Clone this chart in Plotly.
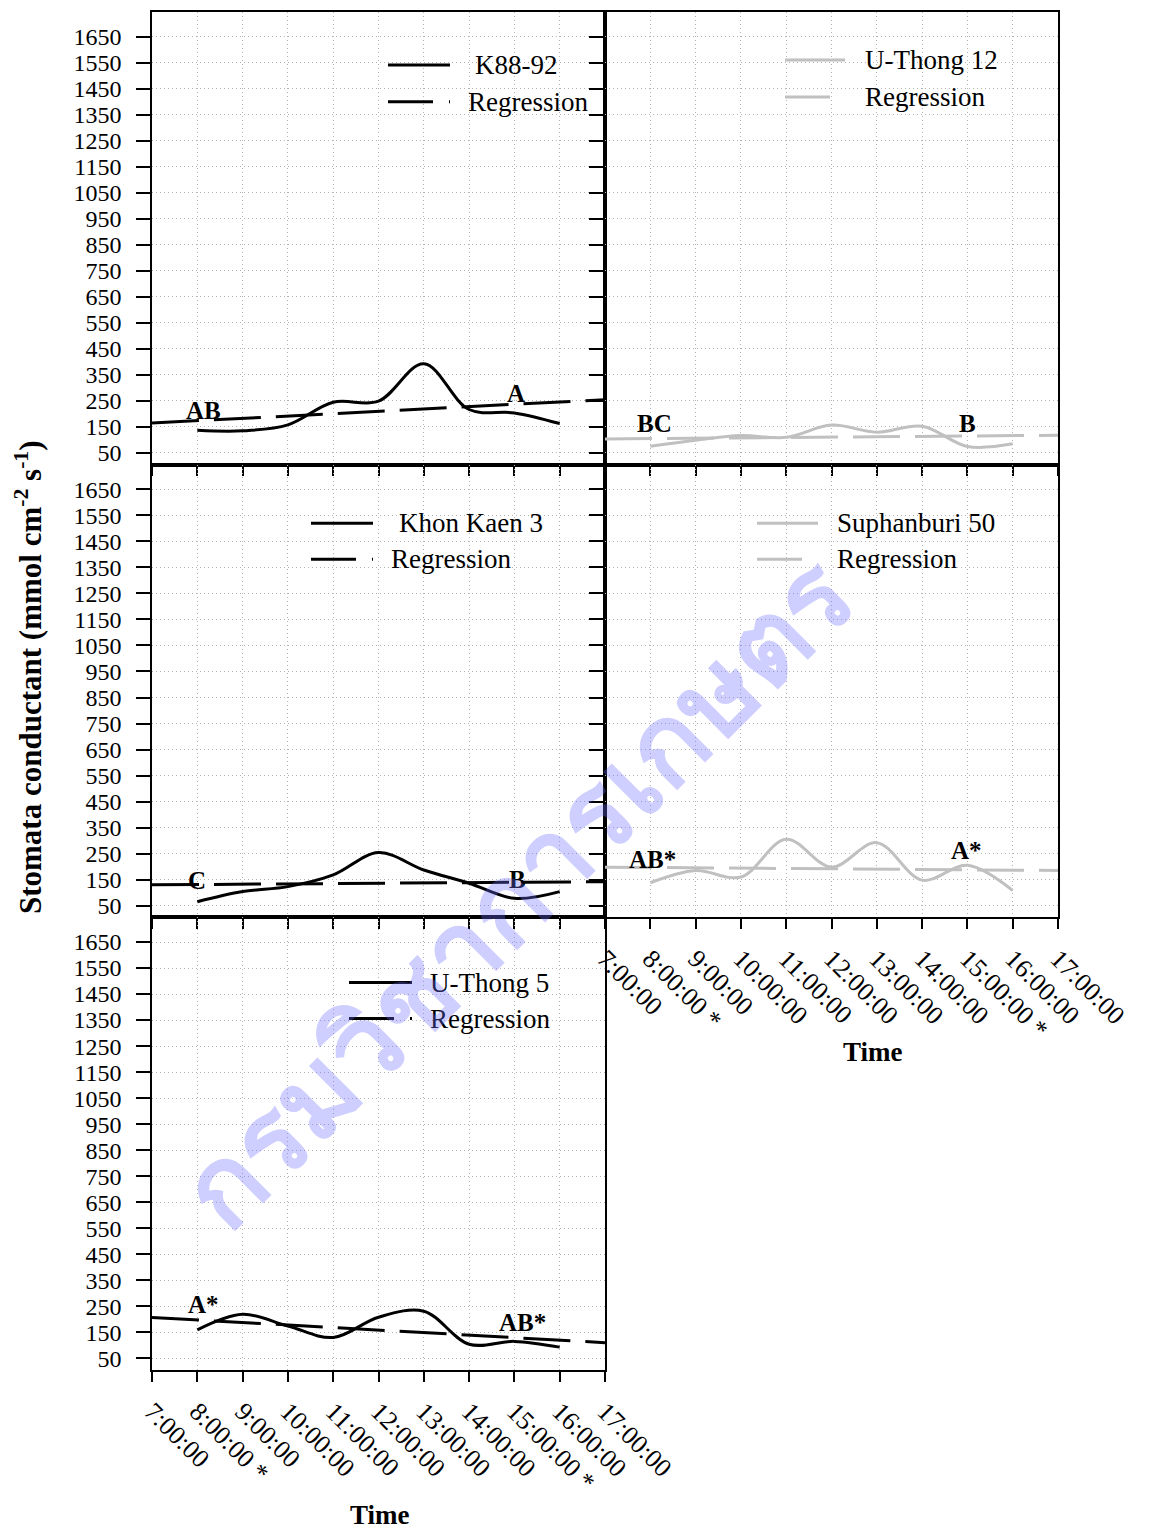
import plotly.graph_objects as go

# ---------------- data ----------------
hours = [8, 9, 10, 11, 12, 13, 14, 15, 16]
tick_hours = [7, 8, 9, 10, 11, 12, 13, 14, 15, 16, 17]
tick_labels = ["7:00:00", "8:00:00 *", "9:00:00", "10:00:00", "11:00:00", "12:00:00",
               "13:00:00", "14:00:00", "15:00:00 *", "16:00:00", "17:00:00"]
y_ticks = [50, 150, 250, 350, 450, 550, 650, 750, 850, 950, 1050, 1150, 1250, 1350, 1450, 1550, 1650]

reg_hours = [7, 17]

k88_92 = [137, 135, 158, 245, 249, 393, 217, 204, 163]
k88_92_reg = [165, 255]
k88_92_letters = ["AB", "A"]

uthong12 = [76, 99, 117, 110, 157, 130, 153, 75, 85]
uthong12_reg = [104, 118]
uthong12_letters = ["BC", "B"]

khonkaen3 = [65, 104, 123, 168, 254, 187, 136, 78, 104]
khonkaen3_reg = [130, 142]
khonkaen3_letters = ["C", "B"]

suphanburi50 = [138, 185, 160, 305, 198, 292, 148, 205, 108]
suphanburi50_reg = [198, 185]
suphanburi50_letters = ["AB*", "A*"]

uthong5 = [159, 219, 174, 130, 208, 231, 104, 115, 93]
uthong5_reg = [207, 110]
uthong5_letters = ["A*", "AB*"]

# ---------------- layout helpers ----------------
W, H = 1149, 1530
OFF = 8  # default page body margin
PL, PR, PT, PB = 152, 1058, 10, 1370  # plot area in page pixels
L, T = PL - OFF, PT - OFF
R = W + OFF - PR
B = H + OFF - PB
PW, PH = PR - PL, PB - PT


def px(x):
    return (x - PL) / PW


def py(y):
    return (PB - y) / PH


SERIF = "Liberation Serif, Times New Roman, serif"
BLACK = "#000000"
GREY = "#c0c0c0"

panels = [
    dict(name="K88-92", v=k88_92, reg=k88_92_reg, letters=k88_92_letters, color=BLACK, ax="",
         lpos=[(8.13, 212), (15.04, 278)],
         leg=dict(sx=(388, 450), sy=(63, 100), tx=(473, 466))),
    dict(name="U-Thong 12", v=uthong12, reg=uthong12_reg, letters=uthong12_letters, color=GREY, ax="2",
         lpos=[(8.10, 162), (15.01, 162)],
         leg=dict(sx=(785, 845), sy=(58, 95), tx=(863, 863))),
    dict(name="Khon Kaen 3", v=khonkaen3, reg=khonkaen3_reg, letters=khonkaen3_letters, color=BLACK, ax="3",
         lpos=[(7.99, 145), (15.06, 149)],
         leg=dict(sx=(311, 373), sy=(522, 558), tx=(397, 389))),
    dict(name="Suphanburi 50", v=suphanburi50, reg=suphanburi50_reg, letters=suphanburi50_letters, color=GREY, ax="4",
         lpos=[(8.04, 226), (14.99, 261)],
         leg=dict(sx=(757, 818), sy=(522, 558), tx=(835, 835))),
    dict(name="U-Thong 5", v=uthong5, reg=uthong5_reg, letters=uthong5_letters, color=BLACK, ax="5",
         lpos=[(8.13, 258), (15.17, 189)],
         leg=dict(sx=(349, 412), sy=(982, 1018), tx=(428, 428))),
]

DASH = "47px,15px"

fig = go.Figure()
shapes = []
annotations = []

for p in panels:
    xa = "x" + p["ax"]
    ya = "y" + p["ax"]
    fig.add_trace(go.Scatter(x=hours, y=p["v"], mode="lines", name=p["name"],
                             line=dict(color=p["color"], width=3, shape="spline", smoothing=1),
                             xaxis=xa, yaxis=ya, showlegend=False))
    fig.add_trace(go.Scatter(x=reg_hours, y=p["reg"], mode="lines", name="Regression",
                             line=dict(color=p["color"], width=3, dash=DASH),
                             xaxis=xa, yaxis=ya, showlegend=False))
    for (lx, ly), txt in zip(p["lpos"], p["letters"]):
        annotations.append(dict(x=lx, y=ly, xref=xa, yref=ya, text="<b>%s</b>" % txt,
                                showarrow=False, font=dict(family=SERIF, size=25, color=BLACK)))
    lg = p["leg"]
    shapes.append(dict(type="line", xref="paper", yref="paper",
                       x0=px(lg["sx"][0]), x1=px(lg["sx"][1]), y0=py(lg["sy"][0]), y1=py(lg["sy"][0]),
                       line=dict(color=p["color"], width=3)))
    shapes.append(dict(type="line", xref="paper", yref="paper",
                       x0=px(lg["sx"][0]), x1=px(lg["sx"][1]), y0=py(lg["sy"][1]), y1=py(lg["sy"][1]),
                       line=dict(color=p["color"], width=3, dash="45px,16px")))
    annotations.append(dict(x=px(lg["tx"][0]), y=py(lg["sy"][0]), xref="paper", yref="paper",
                            xanchor="left", yanchor="middle", text=p["name"], showarrow=False,
                            font=dict(family=SERIF, size=27, color=BLACK)))
    annotations.append(dict(x=px(lg["tx"][1]), y=py(lg["sy"][1]), xref="paper", yref="paper",
                            xanchor="left", yanchor="middle", text="Regression", showarrow=False,
                            font=dict(family=SERIF, size=27, color=BLACK)))

# axis titles
annotations.append(dict(x=px(28), y=py(676), xref="paper", yref="paper", textangle=-90,
                        xanchor="center", yanchor="middle",
                        text="<b>Stomata conductant (mmol cm<sup>-2</sup> s<sup>-1</sup>)</b>",
                        showarrow=False, font=dict(family=SERIF, size=31, color=BLACK)))
annotations.append(dict(x=px(380), y=py(1515), xref="paper", yref="paper", text="<b>Time</b>",
                        xanchor="center", yanchor="middle",
                        showarrow=False, font=dict(family=SERIF, size=27, color=BLACK)))
annotations.append(dict(x=px(873), y=py(1052), xref="paper", yref="paper", text="<b>Time</b>",
                        xanchor="center", yanchor="middle",
                        showarrow=False, font=dict(family=SERIF, size=27, color=BLACK)))

# watermark
annotations.append(dict(x=px(518), y=py(893), xref="paper", yref="paper", textangle=-45,
                        xanchor="center", yanchor="middle",
                        text="<b>กรมวิชาการเกษตร</b>", showarrow=False,
                        font=dict(size=110, color="rgba(110,110,255,0.33)")))

xdom = {"": [0, 0.5], "2": [0.5, 1], "3": [0, 0.5], "4": [0.5, 1], "5": [0, 0.5]}
ydom = {"": [2 / 3, 1], "2": [2 / 3, 1], "3": [1 / 3, 2 / 3], "4": [1 / 3, 2 / 3], "5": [0, 1 / 3]}
xlabels = {"": False, "2": False, "3": False, "4": True, "5": True}
ylabels = {"": True, "2": False, "3": True, "4": False, "5": True}

layout = dict(width=W, height=H, margin=dict(l=L, r=R, t=T, b=B),
              paper_bgcolor="white", plot_bgcolor="white",
              font=dict(family=SERIF, size=24, color=BLACK),
              shapes=shapes, annotations=annotations, showlegend=False)

GRID = dict(showgrid=True, gridcolor="#b4b4b4", griddash="1px,3px", gridwidth=1)

for s in ["", "2", "3", "4", "5"]:
    layout["xaxis" + s] = dict(domain=xdom[s], anchor="y" + s, range=[7, 17],
                               tickvals=tick_hours, ticktext=tick_labels, tickangle=45,
                               showticklabels=xlabels[s], ticks="outside", ticklen=10, tickwidth=1.5,
                               tickcolor=BLACK, showline=True, linecolor=BLACK, linewidth=1.5, mirror=True,
                               zeroline=False, tickfont=dict(family=SERIF, size=26), ticklabelstandoff=4,
                               **GRID)
    layout["yaxis" + s] = dict(domain=ydom[s], anchor="x" + s, range=[5, 1745],
                               tickvals=y_ticks, showticklabels=ylabels[s], ticks="outside", ticklen=14,
                               tickwidth=1.5, tickcolor=BLACK, showline=True, linecolor=BLACK, linewidth=1.5,
                               mirror=True, zeroline=False, tickfont=dict(family=SERIF, size=24),
                               ticklabelstandoff=10, **GRID)

fig.update_layout(**layout)
fig.write_html("out.html")
